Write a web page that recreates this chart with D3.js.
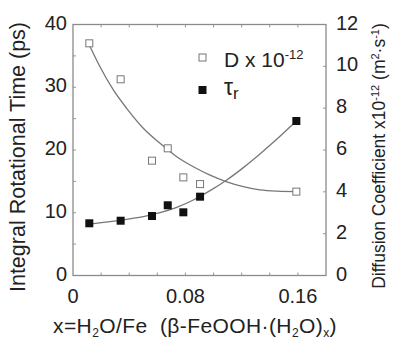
<!DOCTYPE html>
<html>
<head>
<meta charset="utf-8">
<script src="https://cdn.jsdelivr.net/npm/d3@7"></script>
<style>
  body { margin: 0; background: #fff; }
  text { font-family: "Liberation Sans", Arial, sans-serif; fill: #222; }
</style>
</head>
<body>
<svg width="394" height="340"></svg>
<script>
// measured points
const xVals = [0.0116, 0.0339, 0.0562, 0.0674, 0.0785, 0.0904, 0.1589];
const dVals = [11.10, 9.38, 5.49, 6.08, 4.69, 4.37, 4.01];      // right axis, x10^-12 m2/s
const tauVals = [8.32, 8.73, 9.48, 11.19, 10.07, 12.56, 24.62]; // left axis, ps

// fitted curves
const dFitX = [0.0116, 0.0192, 0.0287, 0.0382, 0.0500, 0.0619, 0.0738, 0.0856, 0.0975, 0.1094, 0.1212, 0.1330, 0.1449, 0.1589];
const dFitY = [11.02, 9.98, 8.87, 7.99, 7.04, 6.32, 5.68, 5.20, 4.80, 4.48, 4.25, 4.09, 4.03, 4.01];
const tauFitX = [0.0116, 0.0263, 0.0382, 0.0500, 0.0619, 0.0738, 0.0856, 0.0975, 0.1094, 0.1212, 0.1330, 0.1449, 0.1589];
const tauFitY = [8.21, 8.58, 8.95, 9.38, 10.01, 10.86, 12.03, 13.52, 15.22, 17.19, 19.36, 21.70, 24.62];

const xTicks = [0, 0.08, 0.16];
const yLeftTicks = [0, 10, 20, 30, 40];
const yRightTicks = [0, 2, 4, 6, 8, 10, 12];

const svg = d3.select("svg"),
  margin = {top: 24.5, right: 68, bottom: 64.5, left: 73},
  width = +svg.attr("width") - margin.left - margin.right,
  height = +svg.attr("height") - margin.top - margin.bottom;

const g = svg.append("g").attr("transform", `translate(${margin.left},${margin.top})`);

const x = d3.scaleLinear().domain([0, 0.18]).range([0, width]);
const yL = d3.scaleLinear().domain([0, 40]).range([height, 0]);
const yR = d3.scaleLinear().domain([0, 12]).range([height, 0]);

// small inward ticks on every side
const tickCol = "#999";
g.selectAll(".tb").data(d3.range(0.02, 0.18, 0.02)).enter().each(function(d) {
  const s = d3.select(this);
  s.append("line").attr("x1", x(d)).attr("x2", x(d)).attr("y1", height).attr("y2", height - 3)
    .attr("stroke", tickCol);
  s.append("line").attr("x1", x(d)).attr("x2", x(d)).attr("y1", 0).attr("y2", 3)
    .attr("stroke", tickCol);
});
g.selectAll(".tl").data(d3.range(5, 40, 5)).enter().append("line")
  .attr("x1", 0).attr("x2", 3).attr("y1", d => yL(d)).attr("y2", d => yL(d))
  .attr("stroke", tickCol);
g.selectAll(".tr").data(d3.range(2, 12, 2)).enter().append("line")
  .attr("x1", width).attr("x2", width - 3).attr("y1", d => yR(d)).attr("y2", d => yR(d))
  .attr("stroke", tickCol);

// frame
g.append("rect").attr("width", width).attr("height", height)
  .attr("fill", "none").attr("stroke", "#8a8a8a").attr("stroke-width", 1.3);

// tick labels
g.selectAll(".xl").data(xTicks).enter().append("text")
  .attr("x", d => x(d)).attr("y", height + 27)
  .attr("text-anchor", "middle").style("font-size", "20px")
  .text(d => d === 0 ? "0" : d3.format(".2f")(d));
g.selectAll(".yl").data(yLeftTicks).enter().append("text")
  .attr("x", -6).attr("y", d => yL(d) + 5)
  .attr("text-anchor", "end").style("font-size", "20px")
  .text(d => d);
g.selectAll(".yr").data(yRightTicks).enter().append("text")
  .attr("x", width + 10).attr("y", d => yR(d) + 5)
  .attr("text-anchor", "start").style("font-size", "20px")
  .text(d => d);

// fits
const line = d3.line().curve(d3.curveMonotoneX);
g.append("path")
  .attr("d", line(dFitX.map((v, i) => [x(v), yR(dFitY[i])])))
  .attr("fill", "none").attr("stroke", "#777").attr("stroke-width", 1.3);
g.append("path")
  .attr("d", line(tauFitX.map((v, i) => [x(v), yL(tauFitY[i])])))
  .attr("fill", "none").attr("stroke", "#777").attr("stroke-width", 1.3);

// markers
g.selectAll(".dm").data(xVals).enter().append("rect")
  .attr("x", (d) => x(d) - 3.5).attr("y", (d, i) => yR(dVals[i]) - 3.5)
  .attr("width", 7).attr("height", 7)
  .attr("fill", "#fff").attr("stroke", "#777").attr("stroke-width", 1);
g.selectAll(".tm").data(xVals).enter().append("rect")
  .attr("x", (d) => x(d) - 4).attr("y", (d, i) => yL(tauVals[i]) - 4)
  .attr("width", 8).attr("height", 8)
  .attr("fill", "#111");

// legend
const lg = svg.append("g");
lg.append("rect").attr("x", 199).attr("y", 54).attr("width", 7).attr("height", 7)
  .attr("fill", "#fff").attr("stroke", "#777");
const t1 = lg.append("text").attr("x", 224).attr("y", 66.5).style("font-size", "21px");
t1.append("tspan").text("D x 10");
t1.append("tspan").attr("dy", -8).style("font-size", "13px").text("-12");
lg.append("rect").attr("x", 198.5).attr("y", 86).attr("width", 8).attr("height", 8).attr("fill", "#111");
const t2 = lg.append("text").attr("x", 224).attr("y", 95).style("font-size", "23px");
t2.append("tspan").text("τ");
t2.append("tspan").attr("dy", 4).style("font-size", "17px").text("r");

// axis titles
svg.append("text")
  .attr("transform", "translate(25,157) rotate(-90)")
  .attr("text-anchor", "middle").style("font-size", "21.5px")
  .text("Integral Rotational Time (ps)");

const rt = svg.append("text")
  .attr("transform", "translate(385,156) rotate(-90)")
  .attr("text-anchor", "middle").style("font-size", "17.5px");
rt.append("tspan").text("Diffusion Coefficient x10");
rt.append("tspan").attr("dy", -6).style("font-size", "11px").text("-12");
rt.append("tspan").attr("dy", 6).text(" (m");
rt.append("tspan").attr("dy", -6).style("font-size", "11px").text("2");
rt.append("tspan").attr("dy", 6).text("·s");
rt.append("tspan").attr("dy", -6).style("font-size", "11px").text("-1");
rt.append("tspan").attr("dy", 6).text(")");

const xt = svg.append("text").attr("x", 53).attr("y", 333).style("font-size", "21px")
  .style("letter-spacing", "0.4px").attr("xml:space", "preserve");
xt.append("tspan").text("x=H");
xt.append("tspan").attr("dy", 4).style("font-size", "12px").text("2");
xt.append("tspan").attr("dy", -4).text("O/Fe  (β-FeOOH·(H");
xt.append("tspan").attr("dy", 4).style("font-size", "12px").text("2");
xt.append("tspan").attr("dy", -4).text("O)");
xt.append("tspan").attr("dy", 4).style("font-size", "12px").text("x");
xt.append("tspan").attr("dy", -4).text(")");
</script>
</body>
</html>
